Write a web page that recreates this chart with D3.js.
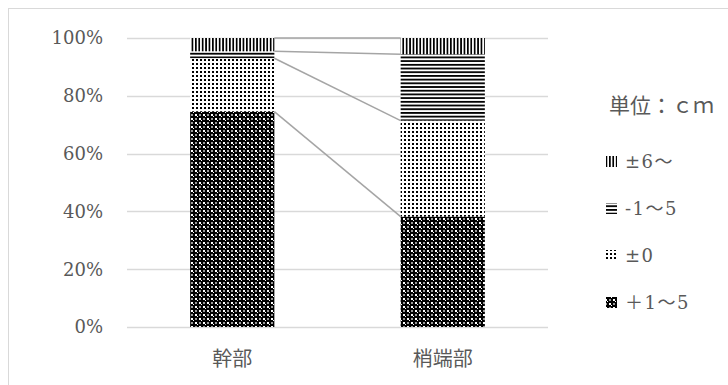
<!DOCTYPE html>
<html>
<head>
<meta charset="utf-8">
<script src="https://cdn.jsdelivr.net/npm/d3@7"></script>
<style>
  body { margin: 0; background: #fff; }
  svg { display: block; }
  .num { font-family: "DejaVu Serif", "Noto Sans CJK JP", serif; font-size: 18px; fill: #595959; }
  .jp { font-family: "Noto Sans CJK JP", sans-serif; font-size: 20px; fill: #595959; }
  .leg { font-family: "DejaVu Serif", "Noto Sans CJK JP", serif; font-size: 18px; fill: #595959; letter-spacing: 1.5px; }
</style>
</head>
<body>
<div id="vis"></div>
<script>
// categories and series (percent shares)
const categories = ["幹部", "梢端部"];
const seriesKeys = ["p1to5", "zero", "m1to5", "pm6"];
const seriesNames = ["＋1～5", "±0", "-1～5", "±6～"];
const p1to5 = [74.5, 38.2];
const zero = [18.5, 33.2];
const m1to5 = [2.4, 23.0];
const pm6 = [4.6, 5.6];
const yTicks = [0, 20, 40, 60, 80, 100];
const unitLabel = "単位：ｃｍ";

const W = 728, H = 385;
const margin = { top: 38, right: 180, bottom: 58, left: 127 };
const width = 548 - margin.left, height = 327 - margin.top;

const rows = categories.map((c, i) => ({
  cat: c, p1to5: p1to5[i], zero: zero[i], m1to5: m1to5[i], pm6: pm6[i]
}));

const svg = d3.select("#vis").append("svg")
  .attr("width", W).attr("height", H);

// chart border (right/bottom edges fall outside the window)
svg.append("rect")
  .attr("x", 8.5).attr("y", 8.5)
  .attr("width", W + 20).attr("height", H + 20)
  .attr("fill", "none").attr("stroke", "#d9d9d9");

// ----- PATTERNS ----- //
const defs = svg.append("defs");

// +1~5 : black crosses with white / grey spots
let p = defs.append("pattern").attr("id", "pat-p1to5")
  .attr("patternUnits", "userSpaceOnUse").attr("width", 8).attr("height", 8);
p.append("rect").attr("width", 8).attr("height", 8).attr("fill", "#000");
p.append("rect").attr("x", 0).attr("y", 0).attr("width", 2).attr("height", 2).attr("fill", "#fff");
p.append("rect").attr("x", 4).attr("y", 4).attr("width", 2).attr("height", 2).attr("fill", "#fff");
p.append("rect").attr("x", 4).attr("y", 0).attr("width", 2).attr("height", 2).attr("fill", "#9a9a9a");
p.append("rect").attr("x", 0).attr("y", 4).attr("width", 2).attr("height", 2).attr("fill", "#9a9a9a");
p.append("rect").attr("x", 2).attr("y", 2).attr("width", 1).attr("height", 1).attr("fill", "#fff");
p.append("rect").attr("x", 6).attr("y", 6).attr("width", 1).attr("height", 1).attr("fill", "#fff");

// ±0 : dots
p = defs.append("pattern").attr("id", "pat-zero")
  .attr("patternUnits", "userSpaceOnUse").attr("width", 4).attr("height", 4);
p.append("rect").attr("width", 4).attr("height", 4).attr("fill", "#fff");
p.append("rect").attr("x", 1).attr("y", 1).attr("width", 2).attr("height", 2).attr("fill", "#000");

// -1~5 : horizontal lines
p = defs.append("pattern").attr("id", "pat-m1to5")
  .attr("patternUnits", "userSpaceOnUse").attr("width", 4).attr("height", 3.7);
p.append("rect").attr("width", 4).attr("height", 3.7).attr("fill", "#fff");
p.append("rect").attr("x", 0).attr("y", 0).attr("width", 4).attr("height", 1.8).attr("fill", "#000");

// ±6~ : vertical lines
p = defs.append("pattern").attr("id", "pat-pm6")
  .attr("patternUnits", "userSpaceOnUse").attr("width", 3.4).attr("height", 4);
p.append("rect").attr("width", 3.4).attr("height", 4).attr("fill", "#fff");
p.append("rect").attr("x", 0).attr("y", 0).attr("width", 1.7).attr("height", 4).attr("fill", "#000");

const fillOf = (k) => "url(#pat-" + k + ")";

// ----- SCALES ----- //
const g = svg.append("g").attr("transform", `translate(${margin.left},${margin.top})`);

const x = d3.scaleBand().domain(categories).range([0, width]).paddingInner(0.6).paddingOuter(0.3);
const y = d3.scaleLinear().domain([0, 100]).range([height, 0]);

// gridlines
g.append("g").selectAll("line").data(yTicks).join("line")
  .attr("x1", 0).attr("x2", width)
  .attr("y1", (d) => Math.round(y(d)) + 0.5).attr("y2", (d) => Math.round(y(d)) + 0.5)
  .attr("stroke", "#d9d9d9").attr("stroke-width", 1.3);

// y tick labels
g.append("g").selectAll("text").data(yTicks).join("text")
  .attr("class", "num")
  .attr("x", -24).attr("y", (d) => y(d))
  .attr("dy", "0.35em")
  .attr("text-anchor", "end")
  .text((d) => d + "%");

// x labels
g.append("g").selectAll("text").data(categories).join("text")
  .attr("class", "jp")
  .attr("x", (d) => x(d) + x.bandwidth() / 2)
  .attr("y", height + 39)
  .attr("text-anchor", "middle")
  .text((d) => d);

// ----- STACKED BARS ----- //
const stacked = d3.stack().keys(seriesKeys)(rows);

g.append("g").selectAll("g").data(stacked).join("g")
  .attr("fill", (d) => fillOf(d.key))
  .selectAll("rect").data((d) => d).join("rect")
  .attr("x", (d) => x(d.data.cat))
  .attr("width", x.bandwidth())
  .attr("y", (d) => y(d[1]))
  .attr("height", (d) => y(d[0]) - y(d[1]));

// series lines between bars
g.append("g").selectAll("line").data(stacked).join("line")
  .attr("x1", x(categories[0]) + x.bandwidth())
  .attr("x2", x(categories[1]))
  .attr("y1", (d) => y(d[0][1]))
  .attr("y2", (d) => y(d[1][1]))
  .attr("stroke", "#a5a5a5").attr("stroke-width", 1.5);

// ----- LEGEND ----- //
const legend = svg.append("g").attr("transform", "translate(609,0)");

legend.append("text")
  .attr("class", "jp")
  .style("font-size", "21px")
  .attr("x", 0).attr("y", 106)
  .attr("dy", "0.35em")
  .text(unitLabel);

const legendOrder = seriesKeys.map((k, i) => ({ key: k, name: seriesNames[i] })).reverse();
const item = legend.selectAll("g.item").data(legendOrder).join("g")
  .attr("class", "item")
  .attr("transform", (d, i) => `translate(0,${162 + i * 47})`);

item.append("rect")
  .attr("x", -3).attr("y", -6)
  .attr("width", 11).attr("height", 11)
  .attr("fill", (d) => fillOf(d.key));

item.append("text")
  .attr("class", "leg")
  .attr("x", 16).attr("y", 0)
  .attr("dy", "0.35em")
  .text((d) => d.name);
</script>
</body>
</html>
